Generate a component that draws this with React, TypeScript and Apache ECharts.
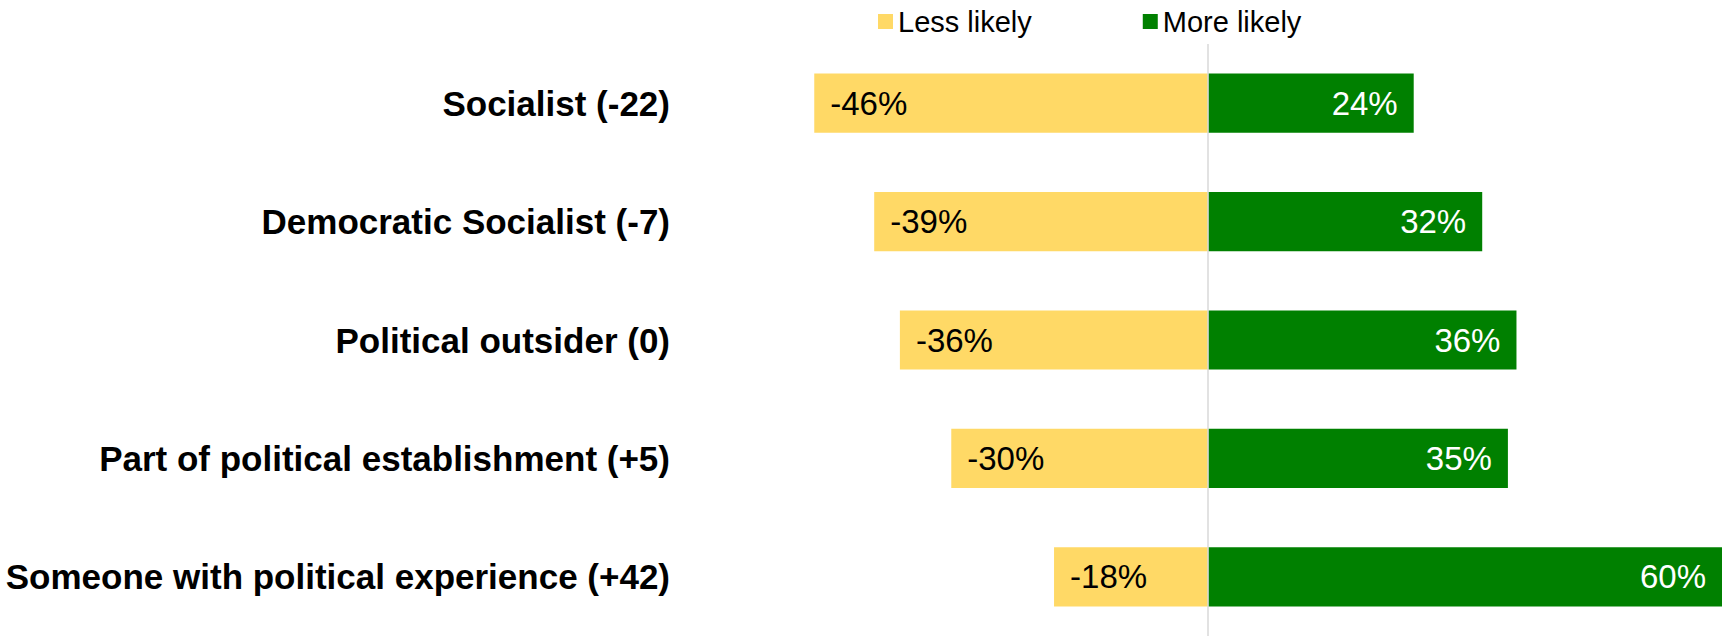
import React, { useEffect, useRef } from "react";
import * as echarts from "echarts";

const categories = [
  "Socialist (-22)",
  "Democratic Socialist (-7)",
  "Political outsider (0)",
  "Part of political establishment (+5)",
  "Someone with political experience (+42)",
];
const lessLikely = [-46, -39, -36, -30, -18];
const moreLikely = [24, 32, 36, 35, 60];

const FONT = "Liberation Sans, Arial, sans-serif";

export default function App() {
  const ref = useRef<HTMLDivElement>(null);
  useEffect(() => {
    document.body.style.margin = "0";
    const chart = echarts.init(ref.current!, null, { renderer: "svg" });
    chart.setOption({
      animation: false,
      textStyle: { fontFamily: FONT },
      legend: {
        top: 2,
        left: 873,
        itemWidth: 15,
        itemHeight: 15,
        itemGap: 111,
        icon: "rect",
        textStyle: { fontSize: 29, color: "#000", fontFamily: FONT },
        data: ["Less likely", "More likely"],
      },
      grid: { left: 780, right: 3, top: 44, height: 595 },
      xAxis: {
        type: "value",
        min: -50,
        max: 60,
        show: false,
      },
      yAxis: {
        type: "category",
        data: categories,
        inverse: true,
        axisLine: { show: false },
        axisTick: { show: false },
        axisLabel: {
          margin: 110,
          fontSize: 35,
          fontWeight: "bold",
          color: "#000",
          fontFamily: FONT,
        },
      },
      series: [
        {
          name: "Less likely",
          type: "bar",
          stack: "t",
          barCategoryGap: "50%",
          data: lessLikely,
          itemStyle: { color: "#FFD966" },
          label: {
            show: true,
            position: "insideLeft",
            distance: 16,
            fontSize: 33,
            color: "#000",
            fontFamily: FONT,
            formatter: (p: any) => p.value + "%",
          },
          markLine: {
            silent: true,
            symbol: "none",
            label: { show: false },
            lineStyle: { color: "#d9d9d9", width: 1.5, type: "solid" },
            data: [{ xAxis: 0 }],
          },
        },
        {
          name: "More likely",
          type: "bar",
          stack: "t",
          barCategoryGap: "50%",
          data: moreLikely,
          itemStyle: { color: "#008000" },
          label: {
            show: true,
            position: "insideRight",
            distance: 16,
            fontSize: 33,
            color: "#fff",
            fontFamily: FONT,
            formatter: (p: any) => p.value + "%",
          },
        },
      ],
    });
    return () => chart.dispose();
  }, []);
  return <div ref={ref} style={{ width: 1725, height: 636 }} />;
}
